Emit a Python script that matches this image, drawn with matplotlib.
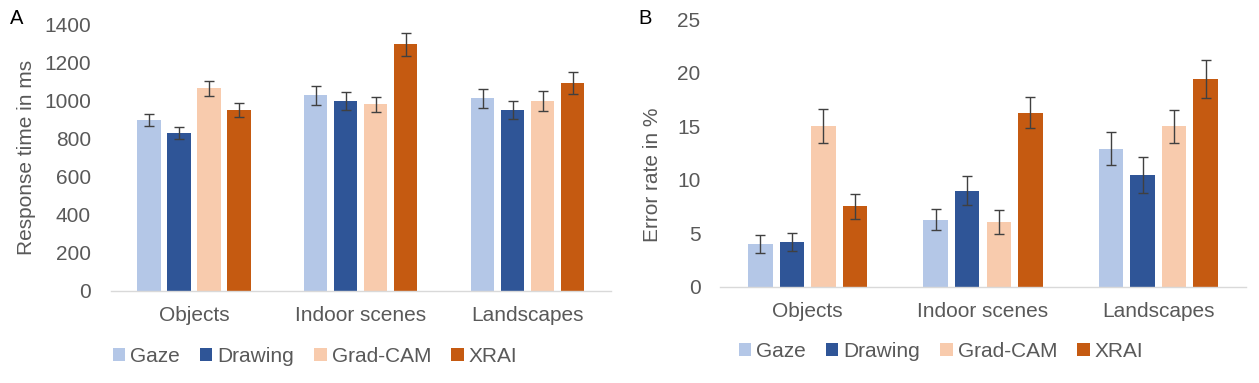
import matplotlib
matplotlib.use("Agg")
import matplotlib.pyplot as plt
import numpy as np

plt.rcParams['font.family'] = ['Liberation Sans', 'DejaVu Sans']

categories = ['Objects', 'Indoor scenes', 'Landscapes']
series_names = ['Gaze', 'Drawing', 'Grad-CAM', 'XRAI']
series_colors = ['#B4C7E7', '#2F5597', '#F8CBAD', '#C55A11']

# Panel A: response time (ms)
rt_gaze = [896, 1026, 1010]
rt_drawing = [827, 996, 949]
rt_gradcam = [1063, 979, 998]
rt_xrai = [949, 1293, 1089]
rt_err_gaze = [33, 50, 48]
rt_err_drawing = [32, 47, 49]
rt_err_gradcam = [40, 40, 52]
rt_err_xrai = [38, 61, 58]

# Panel B: error rate (%)
er_gaze = [4.0, 6.27, 12.92]
er_drawing = [4.21, 8.99, 10.42]
er_gradcam = [15.07, 6.05, 15.01]
er_xrai = [7.52, 16.26, 19.44]
er_err_gaze = [0.86, 0.97, 1.52]
er_err_drawing = [0.85, 1.34, 1.68]
er_err_gradcam = [1.58, 1.10, 1.53]
er_err_xrai = [1.16, 1.44, 1.80]

W, H = 1259, 383
fig = plt.figure(figsize=(W / 100, H / 100), dpi=100)
TXT = '#595959'
FS = 15


def px_axes(l, t, r, b):
    return fig.add_axes([l / W, 1 - b / H, (r - l) / W, (b - t) / H])


def draw_panel(ax, vals, errs, ymax, ystep):
    x = np.arange(len(categories))
    offsets = [-0.27, -0.09, 0.09, 0.27]
    handles = []
    for v, e, off, c, n in zip(vals, errs, offsets, series_colors, series_names):
        b = ax.bar(x + off, v, width=0.14, color=c, label=n, zorder=2)
        ax.errorbar(x + off, v, yerr=e, fmt='none', ecolor='#404040',
                    elinewidth=1.0, capsize=3.5, capthick=1.0, zorder=3)
        handles.append(b)
    ax.set_xlim(-0.5, len(categories) - 0.5)
    ax.set_ylim(0, ymax)
    ax.set_yticks(np.arange(0, ymax + 1e-9, ystep))
    ax.set_xticks(x)
    ax.set_xticklabels(categories)
    for s in ['top', 'right', 'left']:
        ax.spines[s].set_visible(False)
    ax.spines['bottom'].set_color('#D9D9D9')
    ax.spines['bottom'].set_linewidth(1.0)
    ax.tick_params(axis='both', length=0, labelsize=FS, labelcolor=TXT)
    ax.tick_params(axis='y', pad=14)
    ax.tick_params(axis='x', pad=11)
    return handles


axA = px_axes(110.5, 24, 611, 291)
hA = draw_panel(axA, [rt_gaze, rt_drawing, rt_gradcam, rt_xrai],
                [rt_err_gaze, rt_err_drawing, rt_err_gradcam, rt_err_xrai], 1400, 200)
axB = px_axes(720, 19.3, 1246, 287)
hB = draw_panel(axB, [er_gaze, er_drawing, er_gradcam, er_xrai],
                [er_err_gaze, er_err_drawing, er_err_gradcam, er_err_xrai], 25, 5)

fig.text(27 / W, 1 - 157 / H, 'Response time in ms', rotation=90, ha='center', va='center',
         fontsize=FS, color=TXT)
fig.text(652 / W, 1 - 175 / H, 'Error rate in %', rotation=90, ha='center', va='center',
         fontsize=FS, color=TXT)
fig.text(16.5 / W, 1 - 18 / H, 'A', ha='center', va='center', fontsize=14.5, color='black')
fig.text(645 / W, 1 - 18.5 / H, 'B', ha='center', va='center', fontsize=14.5, color='black')

leg_kw = dict(loc='center', ncol=4, frameon=False, fontsize=FS, handlelength=0.6,
              handleheight=0.6, handletextpad=0.25, columnspacing=0.95, labelcolor=TXT)
fig.legend(hA, series_names, bbox_to_anchor=(315 / W, 1 - 356.5 / H), **leg_kw)
fig.legend(hB, series_names, bbox_to_anchor=(941 / W, 1 - 351.5 / H), **leg_kw)

fig.savefig('out.png', dpi=100)
